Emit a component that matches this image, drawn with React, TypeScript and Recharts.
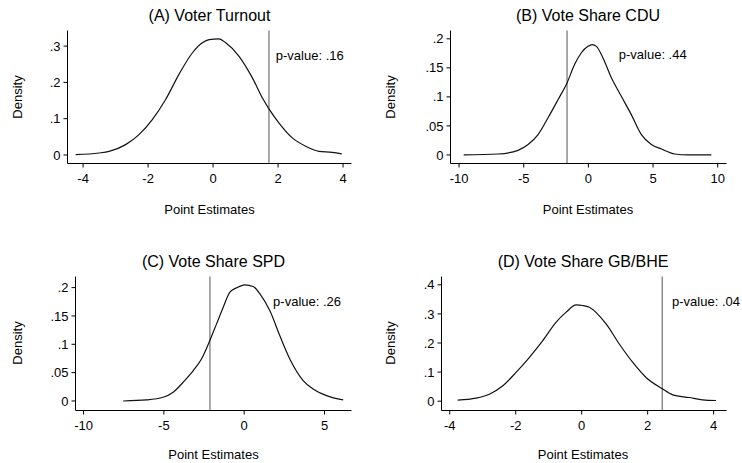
import React from 'react';
import { LineChart, Line, XAxis, YAxis, ReferenceLine, ReferenceDot } from 'recharts';

// ---- Data ----
const turnoutX = [-4.23, -3.51, -3.2, -2.69, -2.28, -1.87, -1.46, -1.05, -0.64, -0.33, -0.12, 0.18, 0.39, 0.8, 1.21, 1.52, 1.72, 2.03, 2.44, 2.85, 3.26, 3.67, 3.96];
const turnoutY = [0.001, 0.0055, 0.01, 0.0285, 0.056, 0.0975, 0.153, 0.222, 0.281, 0.309, 0.318, 0.32, 0.309, 0.272, 0.2125, 0.157, 0.127, 0.088, 0.047, 0.024, 0.01, 0.0074, 0.003];

const cduX = [-9.64, -6.98, -5.44, -4.66, -3.89, -3.12, -2.35, -1.65, -1.06, -0.54, -0.03, 0.28, 0.62, 1.13, 1.78, 2.55, 3.32, 4.1, 4.87, 5.64, 6.68, 7.7, 9.51];
const cduY = [0, 0.0017, 0.008, 0.018, 0.035, 0.064, 0.095, 0.124, 0.156, 0.176, 0.187, 0.19, 0.187, 0.167, 0.133, 0.101, 0.0695, 0.035, 0.018, 0.0103, 0.0017, 0, 0];

const spdX = [-7.53, -6.08, -5.04, -4.42, -3.8, -3.17, -2.66, -2.14, -1.72, -1.31, -0.89, -0.48, 0.04, 0.56, 0.98, 1.6, 2.22, 2.84, 3.67, 4.29, 5.12, 6.16];
const spdY = [0, 0.0018, 0.0065, 0.0153, 0.033, 0.0535, 0.074, 0.1065, 0.136, 0.165, 0.192, 0.1995, 0.205, 0.202, 0.189, 0.159, 0.115, 0.074, 0.036, 0.021, 0.0094, 0.0018];

const gbX = [-3.76, -3.2, -2.8, -2.39, -1.99, -1.59, -1.18, -0.78, -0.47, -0.17, 0.03, 0.23, 0.74, 1.14, 1.55, 1.95, 2.43, 2.76, 3.26, 3.67, 4.07];
const gbY = [0.0035, 0.0103, 0.024, 0.053, 0.099, 0.15, 0.208, 0.271, 0.306, 0.331, 0.329, 0.323, 0.2655, 0.1965, 0.133, 0.0816, 0.0437, 0.0218, 0.0126, 0.0046, 0.0023];

const turnoutXTicks = [-4, -2, 0, 2, 4];
const turnoutYTicks = [0, 0.1, 0.2, 0.3];
const cduXTicks = [-10, -5, 0, 5, 10];
const cduYTicks = [0, 0.05, 0.1, 0.15, 0.2];
const spdXTicks = [-10, -5, 0, 5];
const spdYTicks = [0, 0.05, 0.1, 0.15, 0.2];
const gbXTicks = [-4, -2, 0, 2, 4];
const gbYTicks = [0, 0.1, 0.2, 0.3, 0.4];

const titles = ['(A) Voter Turnout', '(B) Vote Share CDU', '(C) Vote Share SPD', '(D) Vote Share GB/BHE'];
const observedEstimates = [1.72, -1.65, -2.13, 2.44];
const pValueLabels = ['p-value: .16', 'p-value: .44', 'p-value: .26', 'p-value: .04'];
const xAxisTitle = 'Point Estimates';
const yAxisTitle = 'Density';

// ---- Layout / options ----
const FONT = '"Liberation Sans", Arial, Helvetica, sans-serif';
const YW = 60;
const XH = 30;

const zip = (xs: number[], ys: number[]) => xs.map((x, i) => ({ x, y: ys[i] }));

const panels = [
  {
    data: zip(turnoutX, turnoutY), xTicks: turnoutXTicks, yTicks: turnoutYTicks,
    left: 0, top: 0, w: 371, h: 231,
    plot: { l: 67.5, t: 30.5, r: 351.5, b: 163.5 },
    xDomain: [-4.48, 4.26], yDomain: [-0.0235, 0.343],
    textAt: { x: 1.93, y: 0.275 },
    title: { x: 209.5, y: 21 }, xlab: { x: 209.5, y: 213.5 }, ylab: { x: 22, y: 97 },
  },
  {
    data: zip(cduX, cduY), xTicks: cduXTicks, yTicks: cduYTicks,
    left: 371, top: 0, w: 371, h: 231,
    plot: { l: 79.5, t: 30.5, r: 355.5, b: 163.5 },
    xDomain: [-10.66, 10.68], yDomain: [-0.0147, 0.2143],
    textAt: { x: 2.35, y: 0.174 },
    title: { x: 588, y: 21 }, xlab: { x: 588, y: 213.5 }, ylab: { x: 394.5, y: 97 },
  },
  {
    data: zip(spdX, spdY), xTicks: spdXTicks, yTicks: spdYTicks,
    left: 0, top: 231, w: 371, h: 232,
    plot: { l: 75.5, t: 45.5, r: 351.5, b: 179.5 },
    xDomain: [-10.5, 6.68], yDomain: [-0.0168, 0.2196],
    textAt: { x: 1.8, y: 0.176 },
    title: { x: 213.5, y: 267 }, xlab: { x: 213.5, y: 459 }, ylab: { x: 22, y: 343 },
  },
  {
    data: zip(gbX, gbY), xTicks: gbXTicks, yTicks: gbYTicks,
    left: 371, top: 231, w: 371, h: 232,
    plot: { l: 70.5, t: 45.5, r: 355.5, b: 179.5 },
    xDomain: [-4.25, 4.39], yDomain: [-0.032, 0.4286],
    textAt: { x: 2.74, y: 0.343 },
    title: { x: 583, y: 267 }, xlab: { x: 583, y: 459 }, ylab: { x: 394.5, y: 343 },
  },
];

const fmt = (v: number) => {
  if (v === 0) return '0';
  const s = String(v);
  if (Math.abs(v) < 1) return s.replace('0.', '.');
  return s;
};

const tickStyle = { fontSize: 13, fontFamily: FONT, fill: '#000' };

function Panel({ p, i }: { p: typeof panels[number]; i: number }) {
  const margin = {
    top: p.plot.t,
    left: p.plot.l - YW,
    right: p.w - p.plot.r,
    bottom: p.h - p.plot.b - XH,
  };
  return (
    <div style={{ position: 'absolute', left: p.left, top: p.top, width: p.w, height: p.h }}>
      <LineChart width={p.w} height={p.h} data={p.data} margin={margin}>
        <XAxis
          dataKey="x"
          type="number"
          domain={p.xDomain as [number, number]}
          allowDataOverflow
          ticks={p.xTicks}
          interval={0}
          tickFormatter={fmt}
          tick={tickStyle}
          tickSize={4}
          tickMargin={6}
          height={XH}
          axisLine={{ stroke: '#000', strokeWidth: 1 }}
          tickLine={{ stroke: '#000', strokeWidth: 1 }}
        />
        <YAxis
          type="number"
          domain={p.yDomain as [number, number]}
          allowDataOverflow
          ticks={p.yTicks}
          interval={0}
          tickFormatter={fmt}
          tick={tickStyle}
          tickSize={4}
          tickMargin={3}
          width={YW}
          axisLine={{ stroke: '#000', strokeWidth: 1 }}
          tickLine={{ stroke: '#000', strokeWidth: 1 }}
        />
        <ReferenceLine x={observedEstimates[i]} stroke="#555" strokeWidth={1} ifOverflow="visible" />
        <Line
          type="monotone"
          dataKey="y"
          stroke="#111"
          strokeWidth={1.2}
          dot={false}
          isAnimationActive={false}
        />
        <ReferenceDot
          x={p.textAt.x}
          y={p.textAt.y}
          r={0}
          fill="none"
          stroke="none"
          ifOverflow="visible"
          label={{ value: pValueLabels[i], position: 'right', offset: 0, fontSize: 13, fontFamily: FONT, fill: '#000' }}
        />
      </LineChart>
    </div>
  );
}

export default function App() {
  return (
    <div style={{ position: 'absolute', left: 0, top: 0, width: 742, height: 463, background: '#fff', fontFamily: FONT }}>
      {panels.map((p, i) => (
        <Panel key={i} p={p} i={i} />
      ))}
      <svg width={742} height={463} style={{ position: 'absolute', left: 0, top: 0, pointerEvents: 'none' }}>
        {panels.map((p, i) => (
          <g key={i} fontFamily={FONT} fill="#000">
            <text x={p.title.x} y={p.title.y} textAnchor="middle" fontSize={16}>{titles[i]}</text>
            <text x={p.xlab.x} y={p.xlab.y} textAnchor="middle" fontSize={13}>{xAxisTitle}</text>
            <text
              x={p.ylab.x}
              y={p.ylab.y}
              textAnchor="middle"
              fontSize={13}
              transform={`rotate(-90 ${p.ylab.x} ${p.ylab.y})`}
            >
              {yAxisTitle}
            </text>
          </g>
        ))}
      </svg>
    </div>
  );
}
